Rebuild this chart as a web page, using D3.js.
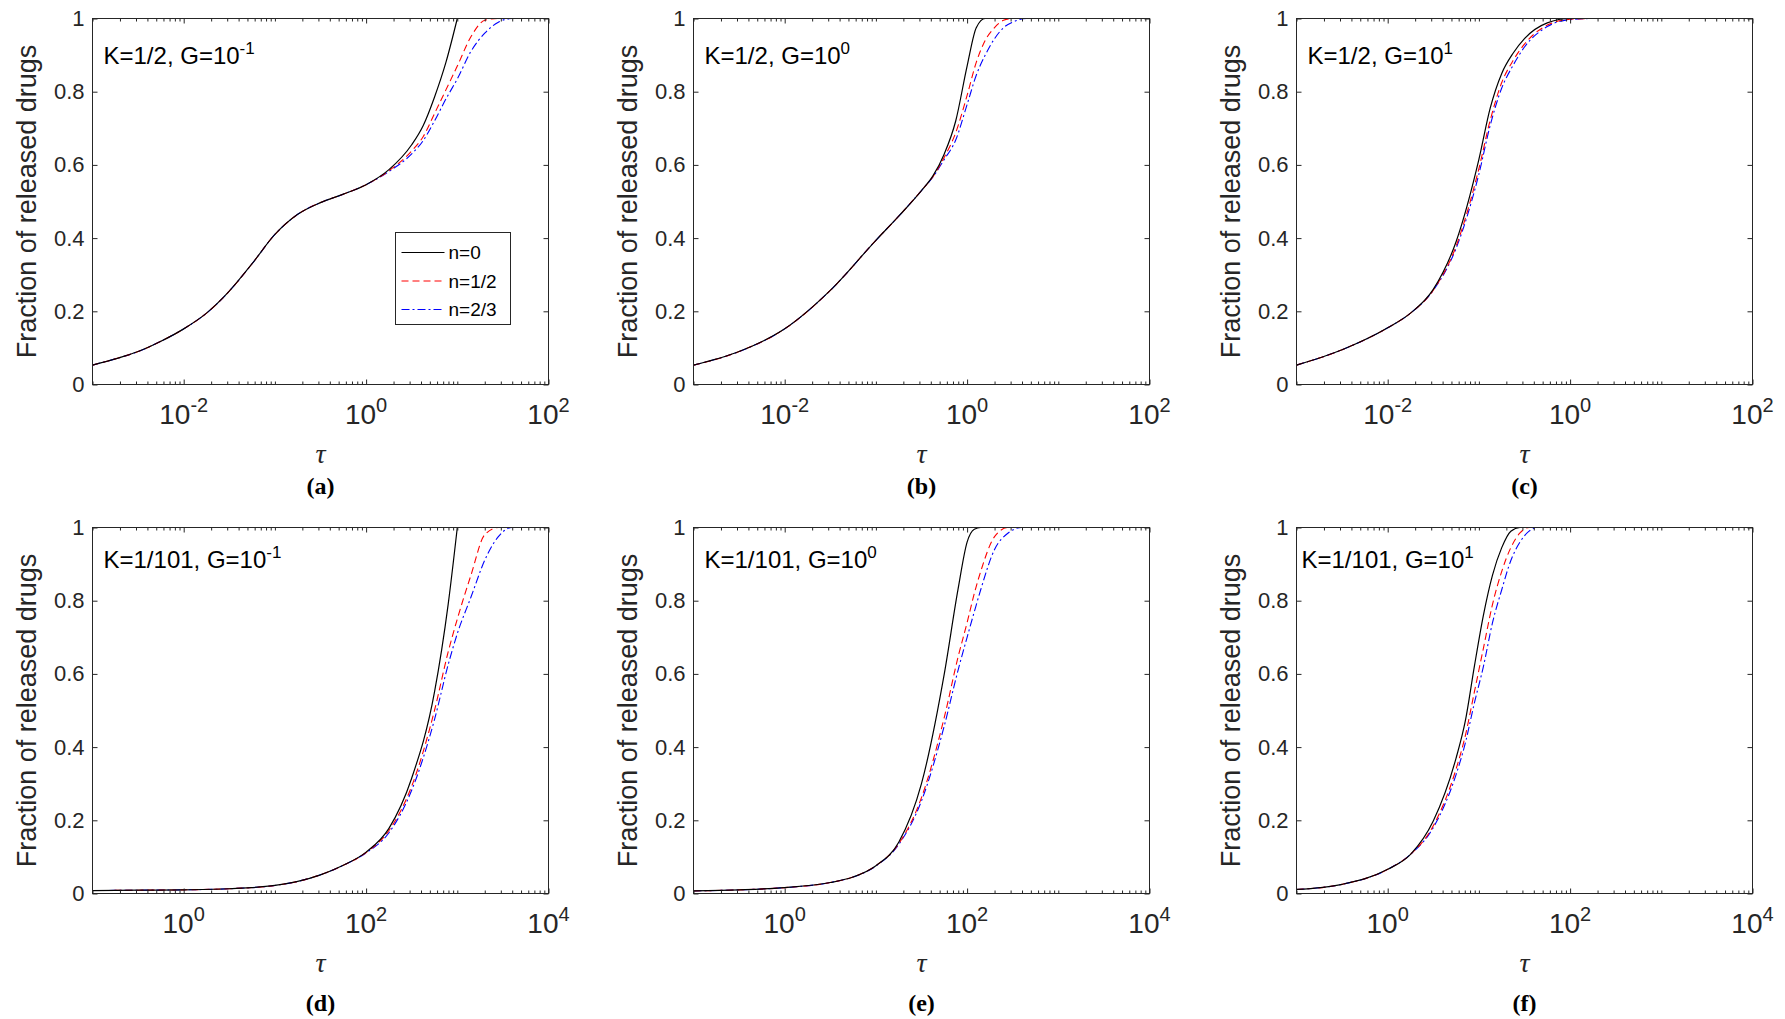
<!DOCTYPE html>
<html>
<head>
<meta charset="utf-8">
<script src="https://cdn.jsdelivr.net/npm/d3@7"></script>
<style>
  body { margin: 0; background: #fff; }
  svg { display: block; font-family: "Liberation Sans", Arial, sans-serif; }
</style>
</head>
<body>
<div id="chart"></div>
<script>
'use strict';

// Panel labels and parameters
var panelLetters = ["(a)", "(b)", "(c)", "(d)", "(e)", "(f)"];
var kValues = ["1/2", "1/2", "1/2", "1/101", "1/101", "1/101"];
var gExponents = ["-1", "0", "1", "-1", "0", "1"];
var seriesNames = ["n=0", "n=1/2", "n=2/3"];

// Axis ticks
var yTickValues = [0, 0.2, 0.4, 0.6, 0.8, 1];
var xDomainTop = [1e-3, 1e2];
var xDomainBottom = [1e-1, 1e4];
var xMajorTop = [1e-2, 1, 1e2];
var xMajorTopExp = ["-2", "0", "2"];
var xMajorBottom = [1, 1e2, 1e4];
var xMajorBottomExp = ["0", "2", "4"];

// (a) K=1/2, G=10^-1
var aTau = [0.001, 0.00178, 0.00316, 0.00562, 0.01, 0.0178, 0.0316, 0.0562, 0.1, 0.178, 0.316, 0.562, 1, 1.78, 3.16, 4.22, 5.62, 7.5, 10, 14.1, 20, 28.2, 39.8, 100];
var aN0  = [0.053, 0.07, 0.09, 0.118, 0.152, 0.195, 0.255, 0.33, 0.41, 0.465, 0.497, 0.52, 0.546, 0.587, 0.655, 0.707, 0.785, 0.88, 1, null, null, null, null, null];
var aN12 = [0.053, 0.07, 0.09, 0.118, 0.152, 0.195, 0.255, 0.33, 0.41, 0.465, 0.497, 0.52, 0.546, 0.584, 0.638, 0.677, 0.74, 0.805, 0.87, 0.95, 0.995, 1, 1, 1];
var aN23 = [0.053, 0.07, 0.09, 0.118, 0.152, 0.195, 0.255, 0.33, 0.41, 0.465, 0.497, 0.52, 0.546, 0.582, 0.63, 0.666, 0.72, 0.78, 0.835, 0.91, 0.96, 0.99, 1, 1];

// (b) K=1/2, G=10^0
var bTau = [0.001, 0.00316, 0.01, 0.0316, 0.1, 0.178, 0.316, 0.422, 0.562, 0.75, 1, 1.26, 1.58, 2.0, 2.51, 3.16, 4.47, 100];
var bN0  = [0.053, 0.09, 0.152, 0.257, 0.394, 0.46, 0.53, 0.57, 0.63, 0.72, 0.87, 0.975, 1, 1, 1, 1, 1, 1];
var bN12 = [0.053, 0.09, 0.152, 0.257, 0.394, 0.46, 0.53, 0.568, 0.621, 0.688, 0.79, 0.88, 0.94, 0.975, 0.995, 1, 1, 1];
var bN23 = [0.053, 0.09, 0.152, 0.257, 0.394, 0.46, 0.53, 0.567, 0.615, 0.668, 0.765, 0.845, 0.9, 0.945, 0.975, 0.99, 1, 1];

// (c) K=1/2, G=10^1
var cTau = [0.001, 0.00316, 0.01, 0.0178, 0.0316, 0.0562, 0.1, 0.133, 0.178, 0.237, 0.316, 0.562, 1, 1.78, 100];
var cN0  = [0.053, 0.095, 0.155, 0.195, 0.26, 0.39, 0.615, 0.755, 0.85, 0.905, 0.945, 0.988, 1, 1, 1];
var cN12 = [0.053, 0.095, 0.155, 0.195, 0.258, 0.378, 0.59, 0.722, 0.825, 0.885, 0.93, 0.982, 0.998, 1, 1];
var cN23 = [0.053, 0.095, 0.155, 0.195, 0.257, 0.372, 0.575, 0.708, 0.81, 0.872, 0.922, 0.978, 0.997, 1, 1];

// (d) K=1/101, G=10^-1
var dTau = [0.1, 0.316, 1, 3.16, 10, 17.8, 31.6, 56.2, 100, 178, 316, 562, 794, 1000, 1413, 1995, 2818, 3981, 10000];
var dN0  = [0.008, 0.009, 0.01, 0.013, 0.022, 0.033, 0.051, 0.077, 0.113, 0.178, 0.315, 0.55, 0.79, 1, null, null, null, null, null];
var dN12 = [0.008, 0.009, 0.01, 0.013, 0.022, 0.033, 0.051, 0.077, 0.112, 0.172, 0.293, 0.5, 0.66, 0.75, 0.87, 0.98, 1, 1, 1];
var dN23 = [0.008, 0.009, 0.01, 0.013, 0.022, 0.033, 0.051, 0.077, 0.111, 0.166, 0.282, 0.475, 0.625, 0.71, 0.81, 0.91, 0.975, 1, 1];

// (e) K=1/101, G=10^0
var eTau = [0.1, 0.316, 1, 3.16, 5.62, 10, 17.8, 31.6, 56.2, 79.4, 100, 120, 141, 200, 282, 398, 10000];
var eN0  = [0.007, 0.01, 0.016, 0.03, 0.045, 0.076, 0.14, 0.3, 0.6, 0.83, 0.96, 0.995, 1, 1, 1, 1, 1];
var eN12 = [0.007, 0.01, 0.016, 0.03, 0.045, 0.076, 0.136, 0.262, 0.481, 0.645, 0.74, 0.82, 0.88, 0.975, 1, 1, 1];
var eN23 = [0.007, 0.01, 0.016, 0.03, 0.045, 0.075, 0.134, 0.253, 0.458, 0.609, 0.7, 0.77, 0.83, 0.94, 0.985, 1, 1];

// (f) K=1/101, G=10^1
var fTau = [0.1, 0.316, 1, 1.78, 3.16, 5.62, 7.08, 8.91, 11.2, 14.1, 17.8, 22.4, 28.2, 35.5, 44.7, 10000];
var fN0  = [0.011, 0.025, 0.066, 0.107, 0.198, 0.37, 0.47, 0.62, 0.76, 0.87, 0.945, 0.99, 1, 1, 1, 1];
var fN12 = [0.011, 0.025, 0.066, 0.107, 0.185, 0.34, 0.43, 0.55, 0.67, 0.79, 0.88, 0.945, 0.985, 1, 1, 1];
var fN23 = [0.011, 0.025, 0.066, 0.107, 0.18, 0.325, 0.41, 0.52, 0.62, 0.74, 0.83, 0.91, 0.96, 0.99, 1, 1];

var panels = [
  { tau: aTau, series: [aN0, aN12, aN23] },
  { tau: bTau, series: [bN0, bN12, bN23] },
  { tau: cTau, series: [cN0, cN12, cN23] },
  { tau: dTau, series: [dN0, dN12, dN23] },
  { tau: eTau, series: [eN0, eN12, eN23] },
  { tau: fTau, series: [fN0, fN12, fN23] }
];

// Layout
var svgWidth = 1785;
var svgHeight = 1019;
var colLeft = [92, 693, 1296];
var rowTop = [18, 527];
var plotWidth = 456;
var plotHeight = 366;
var axisColor = "#262626";
var serifFont = "'Liberation Serif', 'DejaVu Serif', serif";
var seriesColors = ["#000000", "#ff0000", "#0000ff"];
var seriesDash = [null, "7,4", "8,3,2,3"];
var annotationX = [11, 11, 11, 11, 11, 5];
var annotationY = [45, 40];
var letterY = [109, 117];

var svg = d3.select("#chart")
  .append("svg")
    .attr("width", svgWidth)
    .attr("height", svgHeight);

svg.append("rect")
  .attr("width", svgWidth)
  .attr("height", svgHeight)
  .attr("fill", "#fff");

panels.forEach(function(p, i) {
  var col = i % 3;
  var row = Math.floor(i / 3);
  var majors = row === 0 ? xMajorTop : xMajorBottom;
  var majorExp = row === 0 ? xMajorTopExp : xMajorBottomExp;

  var g = svg.append("g")
    .attr("transform", "translate(" + (colLeft[col] + 0.5) + "," + (rowTop[row] + 0.5) + ")");

  var xScale = d3.scaleLog()
    .domain(row === 0 ? xDomainTop : xDomainBottom)
    .range([0, plotWidth]);

  var yScale = d3.scaleLinear()
    .domain([0, 1])
    .range([plotHeight, 0]);

  var minors = xScale.ticks().filter(function(t) {
    return !majors.some(function(m) { return Math.abs(Math.log10(t) - Math.log10(m)) < 1e-6; });
  });

  // clip
  var clipId = "clip" + i;
  g.append("clipPath").attr("id", clipId)
    .append("rect")
      .attr("x", -1).attr("y", -1)
      .attr("width", plotWidth + 2)
      .attr("height", plotHeight + 2);

  // curves
  var line = d3.line()
    .defined(function(d) { return d[1] != null; })
    .x(function(d) { return xScale(d[0]); })
    .y(function(d) { return yScale(d[1]); })
    .curve(d3.curveMonotoneX);

  var curves = g.append("g").attr("clip-path", "url(#" + clipId + ")");
  [2, 1, 0].forEach(function(s) {
    var pts = p.tau.map(function(t, j) { return [t, p.series[s][j]]; });
    curves.append("path")
      .datum(pts)
      .attr("fill", "none")
      .attr("stroke", seriesColors[s])
      .attr("stroke-width", s === 0 ? 1.2 : 1.1)
      .attr("stroke-dasharray", seriesDash[s])
      .attr("d", line);
  });

  // axes ticks (inward, all four sides)
  function noDomain(sel) { sel.select(".domain").remove(); }

  g.append("g")
    .attr("transform", "translate(0," + plotHeight + ")")
    .attr("color", axisColor)
    .call(d3.axisBottom(xScale).tickValues(majors).tickSize(-5).tickFormat(""))
    .call(noDomain);
  g.append("g")
    .attr("transform", "translate(0," + plotHeight + ")")
    .attr("color", axisColor)
    .call(d3.axisBottom(xScale).tickValues(minors).tickSize(-3).tickFormat(""))
    .call(noDomain);
  g.append("g")
    .attr("color", axisColor)
    .call(d3.axisTop(xScale).tickValues(majors).tickSize(-5).tickFormat(""))
    .call(noDomain);
  g.append("g")
    .attr("color", axisColor)
    .call(d3.axisTop(xScale).tickValues(minors).tickSize(-3).tickFormat(""))
    .call(noDomain);

  g.append("g")
    .attr("color", axisColor)
    .call(d3.axisLeft(yScale).tickValues(yTickValues).tickSize(-5).tickPadding(8)
      .tickFormat(function(d) { return String(d); }))
    .call(noDomain)
    .attr("font-size", 22)
    .attr("font-family", null);
  g.append("g")
    .attr("transform", "translate(" + plotWidth + ",0)")
    .attr("color", axisColor)
    .call(d3.axisRight(yScale).tickValues(yTickValues).tickSize(-5).tickFormat(""))
    .call(noDomain);

  // box
  g.append("rect")
    .attr("width", plotWidth)
    .attr("height", plotHeight)
    .attr("fill", "none")
    .attr("stroke", axisColor)
    .attr("stroke-width", 1);

  // x tick labels 10^k
  var xl = g.selectAll(".xlabel")
    .data(majors)
    .enter().append("text")
      .attr("class", "xlabel")
      .attr("x", function(d) { return xScale(d); })
      .attr("y", plotHeight + 39)
      .attr("text-anchor", "middle")
      .attr("font-size", 28)
      .attr("fill", axisColor);
  xl.append("tspan").text("10");
  xl.append("tspan")
    .attr("dy", -12)
    .attr("font-size", 20)
    .text(function(d, j) { return majorExp[j]; });

  // axis titles
  g.append("text")
    .attr("transform", "translate(-57," + (plotHeight / 2) + ") rotate(-90)")
    .attr("text-anchor", "middle")
    .attr("font-size", 27)
    .attr("fill", axisColor)
    .text("Fraction of released drugs");

  g.append("text")
    .attr("x", plotWidth / 2)
    .attr("y", plotHeight + 78)
    .attr("text-anchor", "middle")
    .attr("font-size", 28)
    .style("font-style", "italic")
    .style("font-family", serifFont)
    .attr("fill", axisColor)
    .text("τ");

  g.append("text")
    .attr("x", plotWidth / 2)
    .attr("y", plotHeight + letterY[row])
    .attr("text-anchor", "middle")
    .attr("font-size", 24)
    .style("font-weight", "bold")
    .style("font-family", serifFont)
    .attr("fill", "#000")
    .text(panelLetters[i]);

  // annotation
  var ann = g.append("text")
    .attr("x", annotationX[i])
    .attr("y", annotationY[row])
    .attr("font-size", 24)
    .attr("fill", "#000");
  ann.append("tspan").text("K=" + kValues[i] + ", G=10");
  ann.append("tspan").attr("dy", -10).attr("font-size", 17).text(gExponents[i]);

  // legend only in first panel
  if (i === 0) {
    var legend = g.append("g").attr("transform", "translate(303,214)");
    legend.append("rect")
      .attr("width", 115)
      .attr("height", 92)
      .attr("fill", "#fff")
      .attr("stroke", axisColor)
      .attr("stroke-width", 1);
    var rows = legend.selectAll(".entry")
      .data(seriesNames)
      .enter().append("g")
        .attr("class", "entry")
        .attr("transform", function(d, j) { return "translate(0," + (20 + j * 28.5) + ")"; });
    rows.append("line")
      .attr("x1", 6).attr("x2", 49)
      .attr("stroke", function(d, j) { return seriesColors[j]; })
      .attr("stroke-width", 1.1)
      .attr("stroke-dasharray", function(d, j) { return seriesDash[j]; });
    rows.append("text")
      .attr("x", 53)
      .attr("dy", "0.36em")
      .attr("font-size", 19)
      .attr("fill", "#000")
      .text(function(d) { return d; });
  }
});
</script>
</body>
</html>
